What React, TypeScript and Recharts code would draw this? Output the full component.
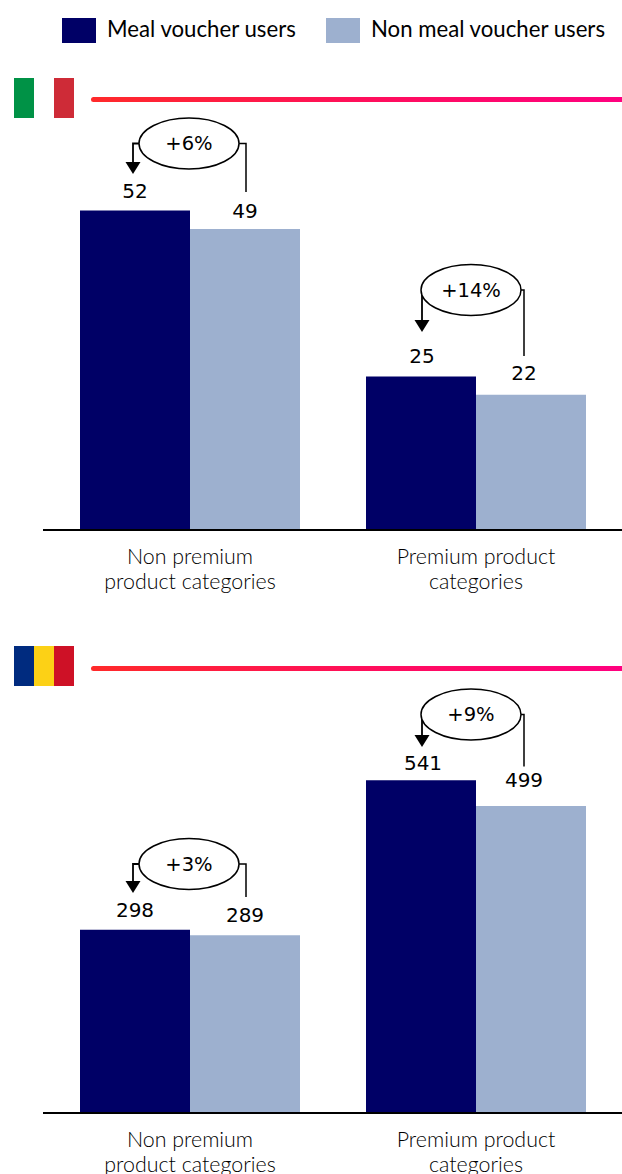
import { BarChart, Bar, XAxis, YAxis } from 'recharts'

const seriesNames = ['Meal voucher users', 'Non meal voucher users']
const seriesColors = ['#000066', '#9DB0CF']
const categories = ['Non premium|product categories', 'Premium product|categories']

const italyUsers = [52, 25]
const italyNonUsers = [49, 22]
const italyUplift = ['+6%', '+14%']

const romaniaUsers = [298, 541]
const romaniaNonUsers = [289, 499]
const romaniaUplift = ['+3%', '+9%']

const NUMBER_FONT = '"DejaVu Sans", sans-serif'
const TEXT_FONT = 'Lato, sans-serif'

// callout bubble placement, in chart-local pixels
const italyCallouts = [
  { cx: 189, cy: 143.5, left: 133, right: 246, tip: 174, end: 192 },
  { cx: 471, cy: 290, left: 422, right: 524, tip: 332, end: 356 },
]
const romaniaCallouts = [
  { cx: 189, cy: 264, left: 133, right: 246, tip: 293, end: 297 },
  { cx: 471, cy: 114.5, left: 422, right: 524, tip: 147, end: 166.5 },
]

const CategoryTick = ({ x, y, payload }: any) => {
  const lines = String(payload.value).split('|')
  return (
    <text x={x} textAnchor="middle" fontFamily={TEXT_FONT} fontWeight={300} fontSize={21.4} fill="#000">
      {lines.map((line, i) => (
        <tspan key={line} x={x} y={y + 18 + i * 25.3} dominantBaseline="central">{line}</tspan>
      ))}
    </text>
  )
}

const Callout = ({ c, text }: any) => (
  <g>
    <polyline
      points={`${c.left},${c.tip - 10} ${c.left},${c.cy} ${c.cx - 50},${c.cy}`}
      fill="none"
      stroke="#000"
      strokeWidth={1.8}
    />
    <polygon points={`${c.left - 7.5},${c.tip - 12} ${c.left + 7.5},${c.tip - 12} ${c.left},${c.tip}`} fill="#000" />
    <polyline
      points={`${c.cx + 50},${c.cy} ${c.right},${c.cy} ${c.right},${c.end}`}
      fill="none"
      stroke="#000"
      strokeWidth={1.5}
    />
    <ellipse cx={c.cx} cy={c.cy} rx={50} ry={25.5} fill="#fff" stroke="#000" strokeWidth={1.5} />
    <text
      x={c.cx}
      y={c.cy}
      textAnchor="middle"
      dominantBaseline="central"
      fontFamily={NUMBER_FONT}
      fontSize={19.5}
      fill="#000"
    >
      {text}
    </text>
  </g>
)

interface CountryChartProps {
  users: number[]
  nonUsers: number[]
  uplift: string[]
  callouts: any[]
  top: number
  height: number
  plotTop: number
  plotBottom: number
  yMax: number
  labelGaps: number[][]
  labelShifts: number[][]
}

function CountryChart(props: CountryChartProps) {
  const { users, nonUsers, uplift, callouts, top, height, plotTop, plotBottom, yMax, labelGaps, labelShifts } = props
  const chartData = categories.map((name, i) => ({ name, users: users[i], nonUsers: nonUsers[i] }))

  const valueLabel = (series: number) => ({ x, y, width, value, index }: any) => (
    <g key={`${series}-${index}`}>
      <text
        x={x + width / 2 + labelShifts[series][index]}
        y={y - labelGaps[series][index]}
        textAnchor="middle"
        dominantBaseline="central"
        fontFamily={NUMBER_FONT}
        fontSize={20}
        fill="#000"
      >
        {value}
      </text>
      {series === 1 && <Callout c={callouts[index]} text={uplift[index]} />}
    </g>
  )

  return (
    <div style={{ position: 'absolute', left: 0, top }}>
      <BarChart
        width={622}
        height={height}
        data={chartData}
        barSize={110}
        barGap={0}
        margin={{ top: plotTop, right: 0, bottom: 0, left: 43 }}
      >
        <XAxis
          dataKey="name"
          interval={0}
          padding={{ left: 4, right: 3 }}
          height={height - plotBottom}
          tick={<CategoryTick />}
          tickLine={false}
          axisLine={{ stroke: '#000', strokeWidth: 2 }}
        />
        <YAxis hide domain={[0, yMax]} />
        <Bar dataKey="users" fill={seriesColors[0]} isAnimationActive={false} label={valueLabel(0)} />
        <Bar dataKey="nonUsers" fill={seriesColors[1]} isAnimationActive={false} label={valueLabel(1)} />
      </BarChart>
    </div>
  )
}

const Flag = ({ top, stripes }: { top: number; stripes: string[] }) => (
  <div style={{ position: 'absolute', left: 14, top, width: 60, height: 40, display: 'flex' }}>
    {stripes.map((color, i) => (
      <div key={i} style={{ flex: 1, background: color }} />
    ))}
  </div>
)

const Rule = ({ top }: { top: number }) => (
  <div
    style={{
      position: 'absolute',
      left: 91,
      top,
      width: 531,
      height: 5,
      borderRadius: '3px 0 0 3px',
      background: 'linear-gradient(90deg, #FF2A2A 0%, #FF0F5A 50%, #FF007F 100%)',
    }}
  />
)

const LegendRow = () => (
  <>
    {seriesNames.map((name, i) => (
      <div key={name}>
        <div
          style={{
            position: 'absolute',
            left: [62, 326][i],
            top: 18,
            width: 34,
            height: 25,
            background: seriesColors[i],
          }}
        />
        <div
          style={{
            position: 'absolute',
            left: [107, 371][i],
            top: 16,
            fontFamily: TEXT_FONT,
            fontSize: 22.2,
            lineHeight: '26px',
            color: '#000',
            whiteSpace: 'nowrap',
          }}
        >
          {name}
        </div>
      </div>
    ))}
  </>
)

export default function App() {
  return (
    <div style={{ position: 'absolute', left: 0, top: 0, width: 622, height: 1174, overflow: 'hidden', background: '#fff' }}>
      <LegendRow />

      <Flag top={78} stripes={['#009246', '#FFFFFF', '#CE2B37']} />
      <Rule top={97} />
      <CountryChart
        users={italyUsers}
        nonUsers={italyNonUsers}
        uplift={italyUplift}
        callouts={italyCallouts}
        top={0}
        height={600}
        plotTop={100}
        plotBottom={530}
        yMax={70}
        labelGaps={[[20, 20], [18, 22]]}
        labelShifts={[[0, 1], [0, -7]]}
      />

      <Flag top={646} stripes={['#002B7F', '#FCD116', '#CE1126']} />
      <Rule top={666} />
      <CountryChart
        users={romaniaUsers}
        nonUsers={romaniaNonUsers}
        uplift={romaniaUplift}
        callouts={romaniaCallouts}
        top={600}
        height={574}
        plotTop={80}
        plotBottom={513}
        yMax={704}
        labelGaps={[[19.5, 17], [20, 26]]}
        labelShifts={[[0, 2], [0, -7]]}
      />
    </div>
  )
}
